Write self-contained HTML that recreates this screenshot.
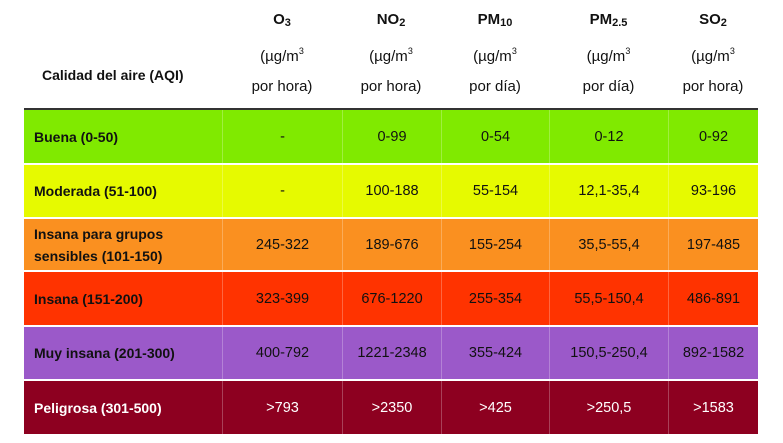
<!DOCTYPE html>
<html><head><meta charset="utf-8"><style>
body{margin:0;width:783px;height:443px;background:#fff;position:relative;font-family:"Liberation Sans",sans-serif;color:#111;overflow:hidden}
.a{position:absolute}
.h{position:absolute;text-align:center;font-size:15px;line-height:16px}
.row{position:absolute;left:24px;width:734px}
.c{position:absolute;top:0;height:100%;display:flex;align-items:center;justify-content:center;font-size:14.5px;border-left:1px solid rgba(255,255,255,0.25);box-sizing:border-box}
.c.f{justify-content:flex-start;padding-left:10px;font-weight:bold;font-size:14px;border-left:none;line-height:22px}
sub{font-size:11px;vertical-align:-2px}
sup{font-size:9px;vertical-align:7px}
</style></head><body>
<div class="a" style="left:42px;top:67px;font-weight:bold;font-size:14px">Calidad del aire (AQI)</div>
<div class="h" style="left:222px;width:120px;top:12px"><b>O<sub>3</sub></b></div>
<div class="h" style="left:341px;width:100px;top:12px"><b>NO<sub>2</sub></b></div>
<div class="h" style="left:441px;width:108px;top:12px"><b>PM<sub>10</sub></b></div>
<div class="h" style="left:549px;width:119px;top:12px"><b>PM<sub>2.5</sub></b></div>
<div class="h" style="left:668px;width:90px;top:12px"><b>SO<sub>2</sub></b></div>
<div class="h" style="left:222px;width:120px;top:43px">(µg/m<sup>3</sup></div>
<div class="h" style="left:341px;width:100px;top:43px">(µg/m<sup>3</sup></div>
<div class="h" style="left:441px;width:108px;top:43px">(µg/m<sup>3</sup></div>
<div class="h" style="left:549px;width:119px;top:43px">(µg/m<sup>3</sup></div>
<div class="h" style="left:668px;width:90px;top:43px">(µg/m<sup>3</sup></div>
<div class="h" style="left:222px;width:120px;top:79px">por hora)</div>
<div class="h" style="left:341px;width:100px;top:79px">por hora)</div>
<div class="h" style="left:441px;width:108px;top:79px">por día)</div>
<div class="h" style="left:549px;width:119px;top:79px">por día)</div>
<div class="h" style="left:668px;width:90px;top:79px">por hora)</div>
<div class="a" style="left:24px;top:108px;width:734px;height:2px;background:#333"></div>

<div class="row" style="top:110px;height:53px;background:#80ea00">
<div class="c f" style="left:0;width:198px">Buena (0-50)</div><div class="c" style="left:198px;width:120px">-</div><div class="c" style="left:318px;width:99px">0-99</div><div class="c" style="left:417px;width:108px">0-54</div><div class="c" style="left:525px;width:119px">0-12</div><div class="c" style="left:644px;width:90px">0-92</div></div>
<div class="row" style="top:165px;height:52px;background:#e6fa00">
<div class="c f" style="left:0;width:198px">Moderada (51-100)</div><div class="c" style="left:198px;width:120px">-</div><div class="c" style="left:318px;width:99px">100-188</div><div class="c" style="left:417px;width:108px">55-154</div><div class="c" style="left:525px;width:119px">12,1-35,4</div><div class="c" style="left:644px;width:90px">93-196</div></div>
<div class="row" style="top:219px;height:51px;background:#fa9020">
<div class="c f" style="left:0;width:198px">Insana para grupos<br>sensibles (101-150)</div><div class="c" style="left:198px;width:120px">245-322</div><div class="c" style="left:318px;width:99px">189-676</div><div class="c" style="left:417px;width:108px">155-254</div><div class="c" style="left:525px;width:119px">35,5-55,4</div><div class="c" style="left:644px;width:90px">197-485</div></div>
<div class="row" style="top:272px;height:53px;background:#ff3300">
<div class="c f" style="left:0;width:198px">Insana (151-200)</div><div class="c" style="left:198px;width:120px">323-399</div><div class="c" style="left:318px;width:99px">676-1220</div><div class="c" style="left:417px;width:108px">255-354</div><div class="c" style="left:525px;width:119px">55,5-150,4</div><div class="c" style="left:644px;width:90px">486-891</div></div>
<div class="row" style="top:327px;height:52px;background:#9b59c9">
<div class="c f" style="left:0;width:198px">Muy insana (201-300)</div><div class="c" style="left:198px;width:120px">400-792</div><div class="c" style="left:318px;width:99px">1221-2348</div><div class="c" style="left:417px;width:108px">355-424</div><div class="c" style="left:525px;width:119px">150,5-250,4</div><div class="c" style="left:644px;width:90px">892-1582</div></div>
<div class="row" style="top:381px;height:53px;background:#8d0020;color:#fff">
<div class="c f" style="left:0;width:198px">Peligrosa (301-500)</div><div class="c" style="left:198px;width:120px">&gt;793</div><div class="c" style="left:318px;width:99px">&gt;2350</div><div class="c" style="left:417px;width:108px">&gt;425</div><div class="c" style="left:525px;width:119px">&gt;250,5</div><div class="c" style="left:644px;width:90px">&gt;1583</div></div>
</body></html>
